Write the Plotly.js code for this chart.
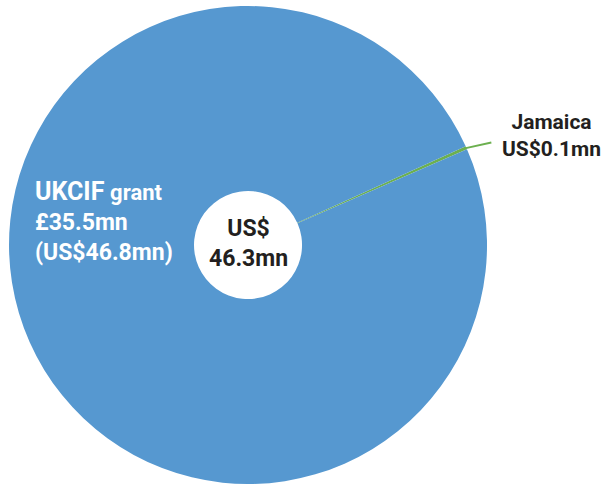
<!DOCTYPE html>
<html>
<head>
<meta charset="utf-8">
<script src="https://cdn.plot.ly/plotly-3.0.1.min.js"></script>
<style>html,body{margin:0;padding:0;background:#fff;}#chart{width:605px;height:484px;}</style>
</head>
<body>
<div id="chart"></div>
<script>
var labels = ["Jamaica", "UKCIF grant"];
var values = [0.1, 46.8];
var colors = ["#6cb04f", "#5698d0"];
var centerText = "<b>US$<br>46.3mn</b>";
var ukcifText = "<b style='font-size:25px'>UKCIF</b> <b style='font-size:22px'>grant</b><br><b>£35.5mn</b><br><b>(US$46.8mn)</b>";
var jamaicaText = "<b>Jamaica</b><br><b>US$0.1mn</b>";

var trace = {
  type: "pie",
  labels: labels,
  values: values,
  marker: {colors: colors, line: {width: 0}},
  sort: false,
  direction: "clockwise",
  rotation: 65.6,
  hole: 0.226,
  textinfo: "none",
  hoverinfo: "none",
  showlegend: false,
  domain: {x: [0.0149, 0.805], y: [0.0, 0.9876]}
};

var layout = {
  width: 605, height: 484,
  margin: {l: 0, r: 0, t: 0, b: 0},
  paper_bgcolor: "#ffffff",
  showlegend: false,
  font: {family: "Roboto, 'DejaVu Sans', sans-serif"},
  annotations: [
    {text: centerText, x: 0.41, y: 0.496, xref: "paper", yref: "paper", xanchor: "center", yanchor: "middle", showarrow: false,
     font: {size: 23, color: "#231f20"}, align: "center"},
    {text: ukcifText, x: 0.055, y: 0.542, xref: "paper", yref: "paper", xanchor: "left", yanchor: "middle", showarrow: false,
     font: {size: 23, color: "#ffffff"}, align: "left"},
    {text: jamaicaText, x: 0.912, y: 0.72, xref: "paper", yref: "paper", xanchor: "center", yanchor: "middle", showarrow: false,
     font: {size: 21, color: "#231f20"}, align: "center"},
    {text: "", x: 0.77, y: 0.694, xref: "paper", yref: "paper", showarrow: true,
     arrowhead: 0, arrowwidth: 2, arrowcolor: "#6cb04f", ax: 27, ay: -6}
  ]
};

Plotly.newPlot("chart", [trace], layout, {displayModeBar: false, staticPlot: true});
</script>
</body>
</html>
